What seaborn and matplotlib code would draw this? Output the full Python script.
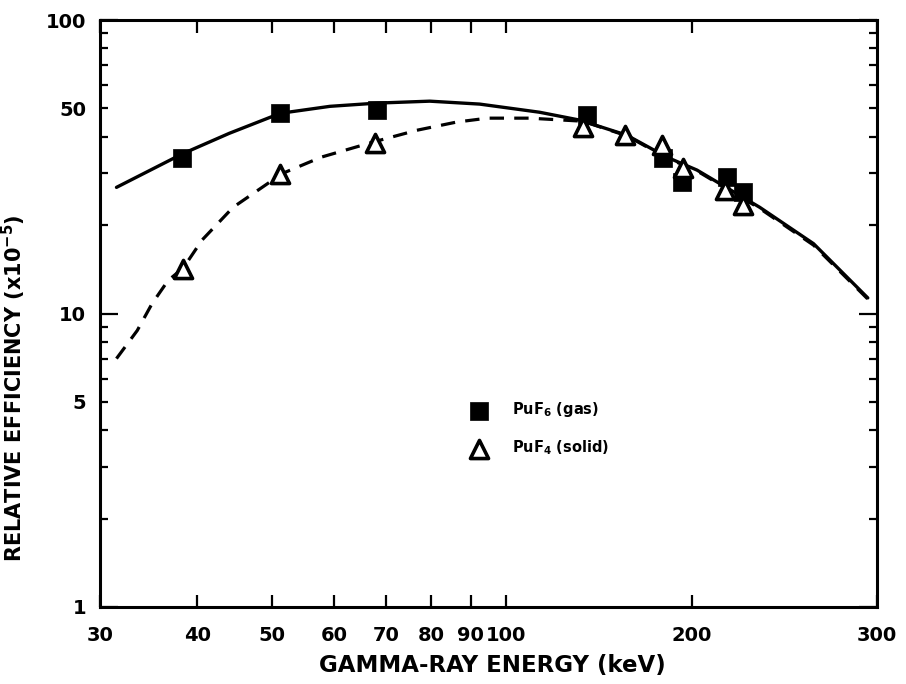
import numpy as np
import pandas as pd
import matplotlib
matplotlib.use("Agg")
import matplotlib.pyplot as plt
import seaborn as sns
from matplotlib.ticker import FixedLocator, FixedFormatter

# ---------------- data ----------------
puf6_energy = [38.3, 51.2, 68.2, 134.9, 179.5, 192.6, 216.0, 223.5]
puf6_eff = [34.0, 48.1, 49.3, 47.4, 33.8, 28.0, 29.1, 25.9]

puf4_energy = [38.4, 51.2, 67.8, 133.0, 155.5, 178.7, 193.4, 214.9, 223.5]
puf4_eff = [14.2, 29.8, 38.0, 43.2, 40.5, 37.5, 31.3, 26.3, 23.4]

gas_curve_energy = [31.5, 38.3, 44.0, 51.2, 59.3, 68.2, 79.7, 92.4, 113.2,
                    131.5, 156.8, 182.0, 202.2, 232.0, 261.0, 294.0]
gas_curve_eff = [26.9, 35.0, 41.1, 48.1, 50.8, 52.1, 52.9, 51.7, 48.5,
                 45.6, 40.5, 34.1, 30.8, 23.0, 17.3, 11.3]

solid_curve_energy = [31.5, 33.5, 35.0, 36.7, 38.4, 40.6, 44.5, 51.5, 57.8,
                      67.2, 76.7, 86.3, 94.6, 109.0, 133.0, 156.8, 182.0,
                      202.2, 232.0, 261.0, 294.0]
solid_curve_eff = [7.02, 8.75, 10.8, 12.95, 14.3, 17.8, 23.0, 30.0, 34.1,
                   38.3, 42.1, 44.9, 46.3, 46.3, 45.2, 40.3, 33.9,
                   30.6, 22.8, 17.1, 11.2]

x_ticks = [30, 40, 50, 60, 70, 80, 90, 100, 200, 300]
x_tick_labels = ["30", "40", "50", "60", "70", "80", "90", "100", "200", "300"]
y_major = [1, 10, 100]
y_major_labels = ["1", "10", "100"]
y_minor = [2, 3, 4, 5, 6, 7, 8, 9, 20, 30, 40, 50, 60, 70, 80, 90]
y_minor_labels = ["", "", "", "5", "", "", "", "", "", "", "", "50", "", "", "", ""]

legend_labels = ["PuF$_{\\mathbf{6}}$ (gas)", "PuF$_{\\mathbf{4}}$ (solid)"]
x_label = "GAMMA-RAY ENERGY (keV)"
y_label = "RELATIVE EFFICIENCY (x10$^{\\mathbf{-5}}$)"

# ---------------- energy axis as drawn in the original ----------------
# log axis whose 200 keV graduation sits where the original drafting put it
KNOT_E = np.log10([30.0, 100.0, 200.0, 300.0])
KNOT_P = np.array([0.0, 0.5229, 0.762, 1.0])
S0 = (KNOT_P[1] - KNOT_P[0]) / (KNOT_E[1] - KNOT_E[0])
S1 = (KNOT_P[-1] - KNOT_P[-2]) / (KNOT_E[-1] - KNOT_E[-2])


def energy_fwd(x):
    lx = np.log10(np.clip(np.asarray(x, dtype=float), 1e-9, None))
    p = np.interp(lx, KNOT_E, KNOT_P)
    p = np.where(lx < KNOT_E[0], KNOT_P[0] + (lx - KNOT_E[0]) * S0, p)
    p = np.where(lx > KNOT_E[-1], KNOT_P[-1] + (lx - KNOT_E[-1]) * S1, p)
    return p


def energy_inv(p):
    p = np.asarray(p, dtype=float)
    lx = np.interp(p, KNOT_P, KNOT_E)
    lx = np.where(p < KNOT_P[0], KNOT_E[0] + (p - KNOT_P[0]) / S0, lx)
    lx = np.where(p > KNOT_P[-1], KNOT_E[-1] + (p - KNOT_P[-1]) / S1, lx)
    return 10.0 ** lx


# ---------------- figure ----------------
sns.set_theme(style="ticks")
plt.rcParams["font.family"] = ["DejaVu Sans"]
plt.rcParams["font.weight"] = "bold"
plt.rcParams["mathtext.default"] = "bf"
plt.rcParams["text.color"] = "black"
plt.rcParams["axes.labelcolor"] = "black"

fig = plt.figure(figsize=(9.06, 6.84), dpi=100)
ax = fig.add_axes([100 / 906, 77 / 684, 777 / 906, 587 / 684])

gas_df = pd.DataFrame({"energy": gas_curve_energy, "eff": gas_curve_eff})
solid_df = pd.DataFrame({"energy": solid_curve_energy, "eff": solid_curve_eff})
p6 = pd.DataFrame({"energy": puf6_energy, "eff": puf6_eff})
p4 = pd.DataFrame({"energy": puf4_energy, "eff": puf4_eff})

sns.lineplot(data=gas_df, x="energy", y="eff", ax=ax, color="black",
             lw=2.4, sort=False, estimator=None, zorder=2)
sns.lineplot(data=solid_df, x="energy", y="eff", ax=ax, color="black",
             lw=2.3, sort=False, estimator=None, linestyle=(0, (4.5, 3.2)),
             zorder=2)

sns.scatterplot(data=p6, x="energy", y="eff", ax=ax, marker="s", s=150,
                color="black", edgecolor="black", linewidth=0.5,
                label=legend_labels[0], zorder=4)
sns.scatterplot(data=p4, x="energy", y="eff", ax=ax, marker="^", s=170,
                facecolor="white", edgecolor="black", linewidth=2.6,
                label=legend_labels[1], zorder=5)

ax.set_xscale("function", functions=(energy_fwd, energy_inv))
ax.set_yscale("log")
ax.set_xlim(30, 300)
ax.set_ylim(1, 100)

ax.xaxis.set_major_locator(FixedLocator(x_ticks))
ax.xaxis.set_major_formatter(FixedFormatter(x_tick_labels))
ax.xaxis.set_minor_locator(FixedLocator([]))
ax.yaxis.set_major_locator(FixedLocator(y_major))
ax.yaxis.set_major_formatter(FixedFormatter(y_major_labels))
ax.yaxis.set_minor_locator(FixedLocator(y_minor))
ax.yaxis.set_minor_formatter(FixedFormatter(y_minor_labels))

ax.tick_params(axis="x", which="major", direction="in", length=9, width=1.6,
               top=True, bottom=True, labelsize=14, pad=14, colors="black")
ax.tick_params(axis="y", which="major", direction="in", length=13, width=1.6,
               left=True, right=True, labelsize=14, pad=10, colors="black")
ax.tick_params(axis="y", which="minor", direction="in", length=6, width=1.6,
               left=True, right=True, labelsize=14, pad=10, colors="black")
for lab in ax.get_xticklabels() + ax.get_yticklabels() + ax.get_yticklabels(minor=True):
    lab.set_fontweight("bold")

for sp in ax.spines.values():
    sp.set_linewidth(2.2)
    sp.set_color("black")

ax.set_xlabel(x_label, fontsize=16.5, fontweight="bold", color="black")
ax.xaxis.set_label_coords(0.505, -0.08)
ax.set_ylabel(y_label, fontsize=15, fontweight="bold", color="black")
ax.yaxis.set_label_coords(-0.093, 0.373)

leg = ax.legend(loc="upper left", bbox_to_anchor=(0.479, 0.352),
                frameon=False, fontsize=10.5, handlelength=1.0,
                handletextpad=1.7, labelspacing=1.3, borderpad=0,
                borderaxespad=0)
for t in leg.get_texts():
    t.set_fontweight("bold")
    t.set_color("black")

fig.savefig("out.png", dpi=100)
